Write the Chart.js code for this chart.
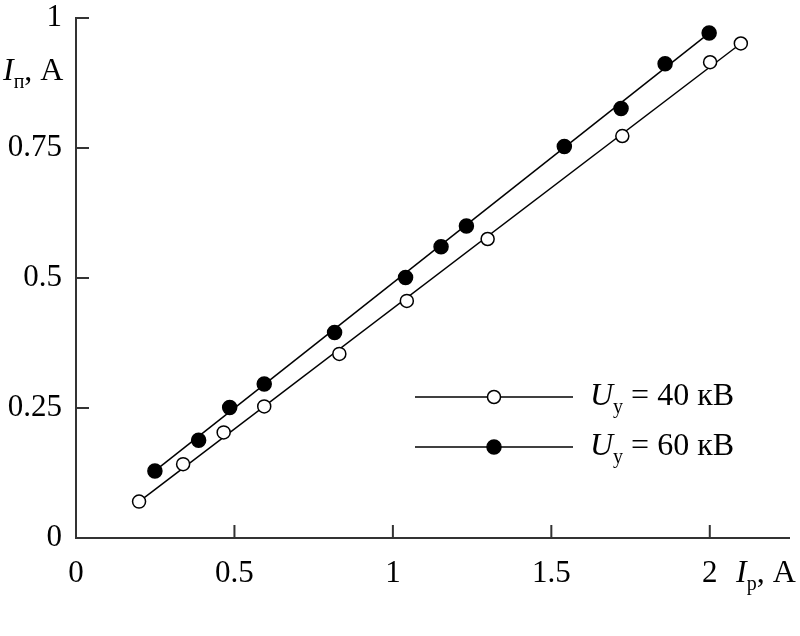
<!DOCTYPE html>
<html>
<head>
<meta charset="utf-8">
<script src="https://cdn.jsdelivr.net/npm/chart.js@4/dist/chart.umd.min.js"></script>
<style>
  html, body { margin: 0; padding: 0; background: #fff; }
  #wrap { width: 800px; height: 636px; }
</style>
</head>
<body>
<div id="wrap"><canvas id="chart"></canvas></div>
<script>
// tick values
const xTicks = [0, 0.5, 1, 1.5, 2];
const yTicks = [0, 0.25, 0.5, 0.75, 1];

// Uy = 40 kV (open circles)
const ip40 = [0.199, 0.338, 0.466, 0.594, 0.831, 1.044, 1.299, 1.724, 2.001, 2.098];
const in40 = [0.070, 0.142, 0.203, 0.253, 0.354, 0.456, 0.575, 0.773, 0.915, 0.951];

// Uy = 60 kV (filled circles)
const ip60 = [0.249, 0.387, 0.485, 0.594, 0.816, 1.040, 1.152, 1.232, 1.541, 1.720, 1.859, 1.998];
const in60 = [0.129, 0.188, 0.251, 0.296, 0.395, 0.501, 0.560, 0.600, 0.753, 0.826, 0.912, 0.971];

// fitted straight lines, end points [x, y]
const fit40 = [[0.199, 0.070], [2.098, 0.951]];
const fit60 = [[0.249, 0.129], [1.998, 0.971]];

const legendItems = [
  { value: '40', filled: false },
  { value: '60', filled: true }
];

const FONT = '"Liberation Serif", "Times New Roman", serif';
const FS = 32;     // titles + legend
const TICK_FS = 31;
const SUB = 20;

const toXY = (xs, ys) => xs.map((x, i) => ({ x, y: ys[i] }));
const pairs = p => p.map(([x, y]) => ({ x, y }));

// draws text made of pieces: {t, it (italic), sub (subscript)}
function drawRich(ctx, parts, x, y) {
  ctx.textBaseline = 'alphabetic';
  ctx.textAlign = 'left';
  for (const p of parts) {
    const size = p.sub ? SUB : FS;
    ctx.font = `${p.it ? 'italic ' : ''}${size}px ${FONT}`;
    ctx.fillText(p.t, x, p.sub ? y + 8 : y);
    x += ctx.measureText(p.t).width;
  }
}

const extras = {
  id: 'extras',
  afterDatasetsDraw(chart) {
    const { ctx, chartArea: a, scales: { x, y } } = chart;
    ctx.save();
    ctx.strokeStyle = '#333';
    ctx.lineWidth = 2;
    // inward ticks
    ctx.beginPath();
    xTicks.forEach(v => {
      const px = x.getPixelForValue(v);
      if (v === 0) return;
      ctx.moveTo(px, a.bottom);
      ctx.lineTo(px, a.bottom - 13);
    });
    yTicks.forEach(v => {
      const py = y.getPixelForValue(v);
      ctx.moveTo(a.left, py);
      ctx.lineTo(a.left + 13, py);
    });
    ctx.stroke();

    ctx.fillStyle = '#000';
    // axis titles
    drawRich(ctx, [{ t: 'I', it: true }, { t: 'п', sub: true }, { t: ', A' }], 3, 80);
    drawRich(ctx, [{ t: 'I', it: true }, { t: 'р', sub: true }, { t: ', A' }], 736, 582);

    // legend
    legendItems.forEach((it, i) => {
      const ly = a.top + 379 + i * 50;
      const lx0 = a.left + 339, lx1 = a.left + 497;
      ctx.strokeStyle = '#000';
      ctx.lineWidth = 1.5;
      ctx.beginPath();
      ctx.moveTo(lx0, ly);
      ctx.lineTo(lx1, ly);
      ctx.stroke();
      ctx.beginPath();
      ctx.arc((lx0 + lx1) / 2, ly, it.filled ? 7 : 6.5, 0, Math.PI * 2);
      ctx.fillStyle = it.filled ? '#000' : '#fff';
      ctx.fill();
      ctx.stroke();
      ctx.fillStyle = '#000';
      drawRich(ctx, [{ t: 'U', it: true }, { t: 'у', sub: true }, { t: ' = ' + it.value + ' кВ' }], a.left + 514, ly + 8);
    });
    ctx.restore();
  }
};

const lineStyle = {
  type: 'line',
  borderColor: '#000',
  borderWidth: 1.5,
  pointRadius: 0,
  fill: false,
  order: 2
};

const pointStyle = filled => ({
  type: 'scatter',
  pointRadius: filled ? 7 : 6.5,
  pointHoverRadius: filled ? 7 : 6.5,
  pointBorderWidth: 1.5,
  pointBorderColor: '#000',
  pointBackgroundColor: filled ? '#000' : '#fff',
  showLine: false,
  order: 1
});

new Chart(document.getElementById('chart'), {
  data: {
    datasets: [
      { ...lineStyle, data: pairs(fit40) },
      { ...lineStyle, data: pairs(fit60) },
      { ...pointStyle(false), data: toXY(ip40, in40) },
      { ...pointStyle(true), data: toXY(ip60, in60) }
    ]
  },
  options: {
    responsive: true,
    maintainAspectRatio: false,
    animation: false,
    layout: { padding: { top: 18, right: 11, left: 0, bottom: 0 } },
    plugins: { legend: { display: false }, tooltip: { enabled: false } },
    scales: {
      x: {
        type: 'linear',
        min: 0,
        max: 2.25,
        afterBuildTicks: s => { s.ticks = xTicks.map(value => ({ value })); },
        afterFit: s => { s.height = 98; s.paddingLeft = 0; s.paddingRight = 0; },
        grid: { drawOnChartArea: false, drawTicks: false },
        border: { display: true, color: '#333', width: 2 },
        ticks: {
          padding: 17,
          color: '#000',
          font: { family: FONT, size: TICK_FS },
          maxRotation: 0,
          callback: v => String(v)
        }
      },
      y: {
        type: 'linear',
        min: 0,
        max: 1,
        afterBuildTicks: s => { s.ticks = yTicks.map(value => ({ value })); },
        afterFit: s => { s.width = 76; s.paddingTop = 0; s.paddingBottom = 0; },
        grid: { drawOnChartArea: false, drawTicks: false },
        border: { display: true, color: '#333', width: 2 },
        ticks: {
          padding: 14,
          color: '#000',
          font: { family: FONT, size: TICK_FS },
          callback: v => String(v)
        }
      }
    }
  },
  plugins: [extras]
});
</script>
</body>
</html>
